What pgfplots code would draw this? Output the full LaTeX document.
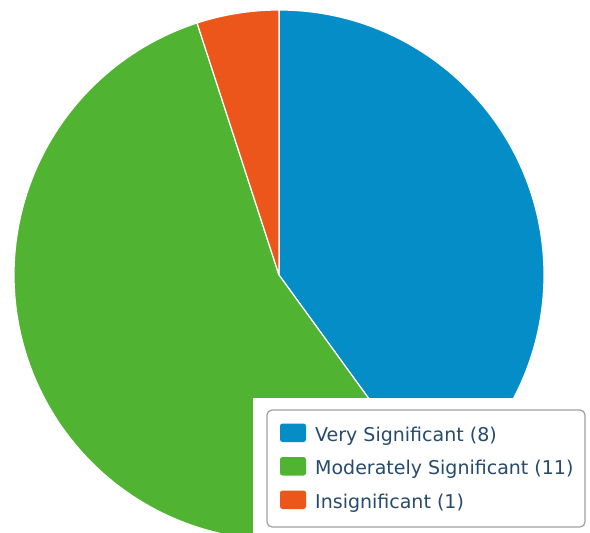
\documentclass[border=0pt]{standalone}
\usepackage{pgfplots}
\pgfplotsset{compat=1.18}
\usepackage{pgfplotstable}
\usepackage{fontspec}
\setmainfont{DejaVu Sans}
\definecolor{cA}{HTML}{058DC7}
\definecolor{cB}{HTML}{50B432}
\definecolor{cC}{HTML}{ED561B}
\definecolor{legtext}{HTML}{274B6D}
\definecolor{legborder}{HTML}{A0A0A0}
\pgfplotstableread[col sep=comma]{
label,value,color
Very Significant,8,cA
Moderately Significant,11,cB
Insignificant,1,cC
}\piedata

\begin{document}
\begin{tikzpicture}
\def\total{0}
\pgfplotsforeachungrouped \i in {0,1,2}{%
  \pgfplotstablegetelem{\i}{value}\of\piedata
  \pgfmathsetmacro\total{\total+\pgfplotsretval}}
\def\cur{90}
\pgfplotsforeachungrouped \i in {0,1,2}{%
  \pgfplotstablegetelem{\i}{value}\of\piedata
  \let\valtmp\pgfplotsretval
  \pgfmathsetmacro\nxt{\cur-\valtmp/\total*360}
  \expandafter\xdef\csname sa\i\endcsname{\cur}
  \expandafter\xdef\csname ea\i\endcsname{\nxt}
  \pgfplotstablegetelem{\i}{color}\of\piedata
  \expandafter\xdef\csname pc\i\endcsname{\pgfplotsretval}
  \pgfplotstablegetelem{\i}{label}\of\piedata
  \expandafter\xdef\csname pl\i\endcsname{\pgfplotsretval\space(\valtmp)}
  \global\let\cur\nxt
}
\begin{axis}[width=590pt,height=533pt,scale only axis,
  xmin=0,xmax=590,ymin=0,ymax=533,y dir=reverse,hide axis,clip=true]
\pgfplotsinvokeforeach{0,1,2}{%
  \fill[fill=\csname pc#1\endcsname, draw=white, line width=1.2pt, line join=round]
    (axis cs:279,275) -- ++(\csname sa#1\endcsname:265pt)
    arc[start angle=\csname sa#1\endcsname, end angle=\csname ea#1\endcsname, radius=265pt] -- cycle;
}
\fill[white] (axis cs:253,398) rectangle (axis cs:590,533);
\draw[legborder, line width=1.2pt, rounded corners=5pt] (axis cs:267,410) rectangle (axis cs:585,527);
\pgfplotsinvokeforeach{0,1,2}{%
  \fill[fill=\csname pc#1\endcsname, rounded corners=2.5pt]
    (axis cs:280,{423.5+33.5*#1}) rectangle (axis cs:306,{442+33.5*#1});
  \node[anchor=base west, inner sep=0pt, text=legtext, font=\fontsize{19}{19}\selectfont]
    at (axis cs:315,{441+33.5*#1}) {\csname pl#1\endcsname};
}
\end{axis}
\pgfresetboundingbox
\path[use as bounding box] (current axis.south west) rectangle (current axis.north east);
\end{tikzpicture}
\end{document}
